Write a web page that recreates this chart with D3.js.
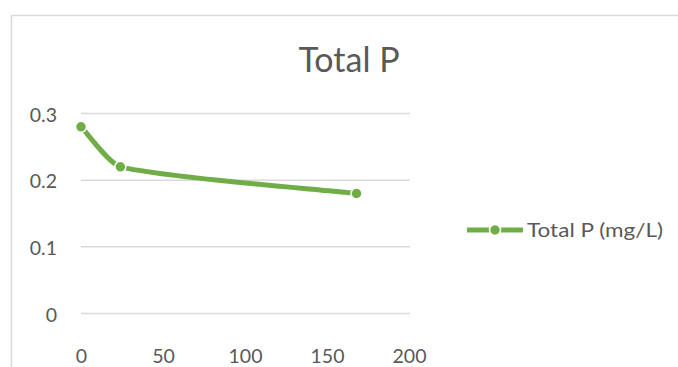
<!DOCTYPE html>
<html>
<head>
<meta charset="utf-8">
<script src="https://cdn.jsdelivr.net/npm/d3@7"></script>
<style>
  html, body { margin: 0; padding: 0; background: #fff; }
  svg { display: block; }
  text { font-family: Lato, "Open Sans", sans-serif; fill: #595959; }
</style>
</head>
<body>
<svg id="chart" width="678" height="367"></svg>
<script>
// Sampling time (h) and total phosphorus concentration (mg/L)
const hours = [0, 24, 168];
const totalP = [0.28, 0.22, 0.18];
const seriesName = "Total P (mg/L)";
const chartTitle = "Total P";
const xTicks = [0, 50, 100, 150, 200];
const yTicks = [0, 0.1, 0.2, 0.3];

const green = "#70AD47";
const gridColor = "#D9D9D9";

const svg = d3.select("#chart");

// chart frame
svg.append("rect")
  .attr("x", 11.5).attr("y", 15.5)
  .attr("width", 720).attr("height", 420)
  .attr("fill", "#fff")
  .attr("stroke", gridColor).attr("stroke-width", 1.5);

const plot = { left: 81, right: 409, top: 113.5, bottom: 313.5 };

const x = d3.scaleLinear().domain([0, 200]).range([plot.left, plot.right]);
const y = d3.scaleLinear().domain([0, 0.3]).range([plot.bottom, plot.top]);

// horizontal gridlines
svg.append("g")
  .selectAll("line")
  .data(yTicks)
  .join("line")
  .attr("x1", plot.left).attr("x2", plot.right + 1)
  .attr("y1", d => y(d)).attr("y2", d => y(d))
  .attr("stroke", gridColor).attr("stroke-width", 1.5);

// y axis labels
const yAxis = d3.axisLeft(y).tickValues(yTicks).tickSize(0).tickPadding(0)
  .tickFormat(d => d3.format("~g")(d));
svg.append("g")
  .attr("transform", `translate(57,0)`)
  .call(yAxis)
  .call(g => g.select(".domain").remove())
  .selectAll("text")
  .attr("dy", "0.4em")
  .attr("font-size", 19.5)
  .attr("font-family", "Lato, sans-serif")
  .attr("fill", "#595959");

// x axis labels
const xAxis = d3.axisBottom(x).tickValues(xTicks).tickSize(0).tickPadding(0)
  .tickFormat(d3.format("d"));
svg.append("g")
  .attr("transform", `translate(0,${plot.bottom + 35.5})`)
  .call(xAxis)
  .call(g => g.select(".domain").remove())
  .selectAll("text")
  .attr("font-size", 19.5)
  .attr("font-family", "Lato, sans-serif")
  .attr("fill", "#595959");

// title
svg.append("text")
  .attr("x", 349).attr("y", 71.5)
  .attr("text-anchor", "middle")
  .attr("font-size", 34)
  .text(chartTitle);

// smoothed series: cubic Bezier segments whose handles follow the
// neighbouring points (1/6 of the chord), shortened next to short segments
function smoothPath(pts) {
  const p = d3.path();
  const f = 1 / 6;
  const dist = (a, b) => Math.hypot(b[0] - a[0], b[1] - a[1]);
  p.moveTo(pts[0][0], pts[0][1]);
  for (let i = 0; i < pts.length - 1; i++) {
    const a = pts[i], b = pts[i + 1];
    const prev = pts[i - 1] || a;
    const next = pts[i + 2] || b;
    const dSeg = dist(a, b);
    // outgoing handle at a
    const dPrev = i > 0 ? dist(prev, a) : dSeg;
    const s1 = Math.min(1, dSeg / dPrev);
    const c1 = [a[0] + f * s1 * (b[0] - prev[0]), a[1] + f * s1 * (b[1] - prev[1])];
    // incoming handle at b
    const dNext = i + 2 < pts.length ? dist(b, next) : dSeg;
    const s2 = Math.min(1, dSeg / dNext);
    const c2 = [b[0] - f * s2 * (next[0] - a[0]), b[1] - f * s2 * (next[1] - a[1])];
    p.bezierCurveTo(c1[0], c1[1], c2[0], c2[1], b[0], b[1]);
  }
  return p.toString();
}

const data = hours.map((h, i) => ({ h, v: totalP[i] }));
const pixelPts = data.map(d => [x(d.h), y(d.v)]);

svg.append("path")
  .attr("d", smoothPath(pixelPts))
  .attr("fill", "none")
  .attr("stroke", green)
  .attr("stroke-width", 5)
  .attr("stroke-linecap", "round");

svg.append("g")
  .selectAll("circle")
  .data(data)
  .join("circle")
  .attr("cx", d => x(d.h)).attr("cy", d => y(d.v))
  .attr("r", 5.5)
  .attr("fill", green)
  .attr("stroke", "#fff").attr("stroke-width", 1.5);

// legend
const lg = svg.append("g").attr("transform", "translate(467,230)");
lg.append("line")
  .attr("x1", 0).attr("x2", 56).attr("y1", 0).attr("y2", 0)
  .attr("stroke", green).attr("stroke-width", 5);
lg.append("circle")
  .attr("cx", 28).attr("cy", 0).attr("r", 5.5)
  .attr("fill", green)
  .attr("stroke", "#fff").attr("stroke-width", 1.5);
lg.append("text")
  .attr("x", 60).attr("y", 6.5)
  .attr("font-size", 19)
  .attr("textLength", 136)
  .attr("lengthAdjust", "spacingAndGlyphs")
  .text(seriesName);
</script>
</body>
</html>
